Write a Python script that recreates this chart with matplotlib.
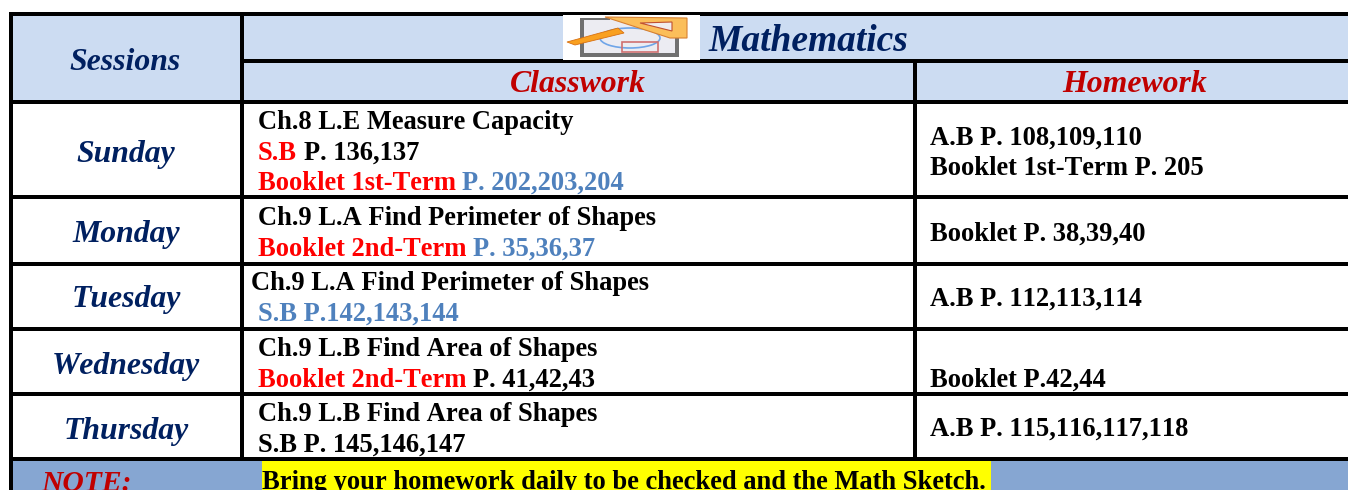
import matplotlib
matplotlib.use("Agg")
import matplotlib.pyplot as plt
from matplotlib.patches import Rectangle, Polygon, Ellipse

# schedule table, each line is a list of (text, colour) pieces
BLACK = "#000000"
RED = "#FF0000"
BLUE = "#4F81BD"
NAVY = "#002060"
DARK_RED = "#C00000"

sessions = ["Sunday", "Monday", "Tuesday", "Wednesday", "Thursday"]
session_base = [162, 242, 307, 374, 439]

classwork = [
    [(258, 129, [("Ch.8 L.E Measure Capacity", BLACK)]),
     (258, 160, [("S.B", RED), ("P. 136,137", BLACK)]),
     (258, 190, [("Booklet 1st-Term", RED), ("P. 202,203,204", BLUE)])],
    [(258, 225, [("Ch.9 L.A Find Perimeter of Shapes", BLACK)]),
     (258, 256, [("Booklet 2nd-Term", RED), ("P. 35,36,37", BLUE)])],
    [(251, 290, [("Ch.9 L.A Find Perimeter of Shapes", BLACK)]),
     (258, 321, [("S.B P.142,143,144", BLUE)])],
    [(258, 356, [("Ch.9 L.B Find Area of Shapes", BLACK)]),
     (258, 387, [("Booklet 2nd-Term", RED), ("P. 41,42,43", BLACK)])],
    [(258, 421, [("Ch.9 L.B Find Area of Shapes", BLACK)]),
     (258, 452, [("S.B P. 145,146,147", BLACK)])],
]

homework = [
    (144.5, "A.B P. 108,109,110"),
    (175, "Booklet 1st-Term P. 205"),
    (241, "Booklet P. 38,39,40"),
    (306, "A.B P. 112,113,114"),
    (387, "Booklet P.42,44"),
    (436, "A.B P. 115,116,117,118"),
]

full_lines = [14, 102, 197, 264, 329, 394, 459]
note_text = "Bring your homework daily to be checked and the Math Sketch."

plt.rcParams["font.family"] = ["Liberation Serif", "DejaVu Serif"]
plt.rcParams["text.kerning_factor"] = 20  # reference text has no kerning

fig = plt.figure(figsize=(13.48, 4.90), dpi=100)
ax = fig.add_axes([0, 0, 1, 1])
ax.set_xlim(0, 1348)
ax.set_ylim(490, 0)
ax.axis("off")


def rect(x0, y0, x1, y1, color, z=1):
    ax.add_patch(Rectangle((x0, y0), x1 - x0, y1 - y0, fc=color, ec="none", zorder=z))


def pieces(x, y, parts, size=19.1):
    # one line of text in several colours, put side by side
    r = fig.canvas.get_renderer()
    for s, c in parts:
        t = ax.text(x, y, s, color=c, fontsize=size, fontweight="bold", va="baseline", zorder=5)
        x += t.get_window_extent(r).width + 6.5


def title(x, y, s, color, ha="center", size=22.9):
    ax.text(x, y, s, color=color, fontsize=size, fontweight="bold", style="italic",
            ha=ha, va="baseline", zorder=5)


# fills
rect(11, 14, 1348, 102, "#CCDCF2")
rect(11, 459, 1348, 490, "#86A6D2")
rect(262, 461, 991, 490, "#FFFF00", 2)

# grid lines
for y in full_lines:
    rect(9, y - 2, 1348, y + 2, BLACK, 3)
rect(240, 59, 1348, 63, BLACK, 3)
rect(9, 12, 13, 490, BLACK, 3)
rect(240, 14, 244, 459, BLACK, 3)
rect(913, 61, 916.5, 459, BLACK, 3)

# icon
rect(563, 15, 700, 60, "#FFFFFF", 3.5)
rect(581, 18, 679, 57, "#ECECF2", 4)
for box in [(580, 18, 584, 57), (675, 18, 679, 57), (580, 53, 679, 57), (580, 18, 610, 20)]:
    rect(*box, "#707070", 4)
ax.add_patch(Ellipse((630, 38), 60, 20, fc="none", ec="#6FA5E8", lw=1.2, zorder=4.1))
ax.add_patch(Rectangle((622, 42), 36, 10, fc="none", ec="#D07070", lw=1.2, zorder=4.1))
ax.add_patch(Polygon([(605, 17), (687, 18), (687, 38), (670, 38)], fc="#FBBE5A", ec="#D88030", lw=0.8, zorder=4.2))
ax.add_patch(Polygon([(640, 23), (672, 22), (672, 31)], fc="#F0EDEF", ec="#C05030", lw=0.8, zorder=4.3))
ax.add_patch(Polygon([(567, 42), (618, 28), (624, 33), (575, 45)], fc="#F9A020", ec="#D87010", lw=0.6, zorder=4.4))

# headers
title(708, 51, "Mathematics", NAVY, ha="left", size=27)
title(125.5, 70, "Sessions", NAVY)
title(578, 92, "Classwork", DARK_RED)
title(1135, 92, "Homework", DARK_RED)

for name, y in zip(sessions, session_base):
    title(126, y, name, NAVY)

for row in classwork:
    for x, y, parts in row:
        pieces(x, y, parts)

for y, s in homework:
    pieces(930, y, [(s, BLACK)])

title(41, 491, "NOTE:", DARK_RED, ha="left", size=21.3)
ax.text(262, 489, note_text, color=BLACK, fontsize=19.1, fontweight="bold", va="baseline", zorder=5)

fig.savefig("out.png", dpi=100)
